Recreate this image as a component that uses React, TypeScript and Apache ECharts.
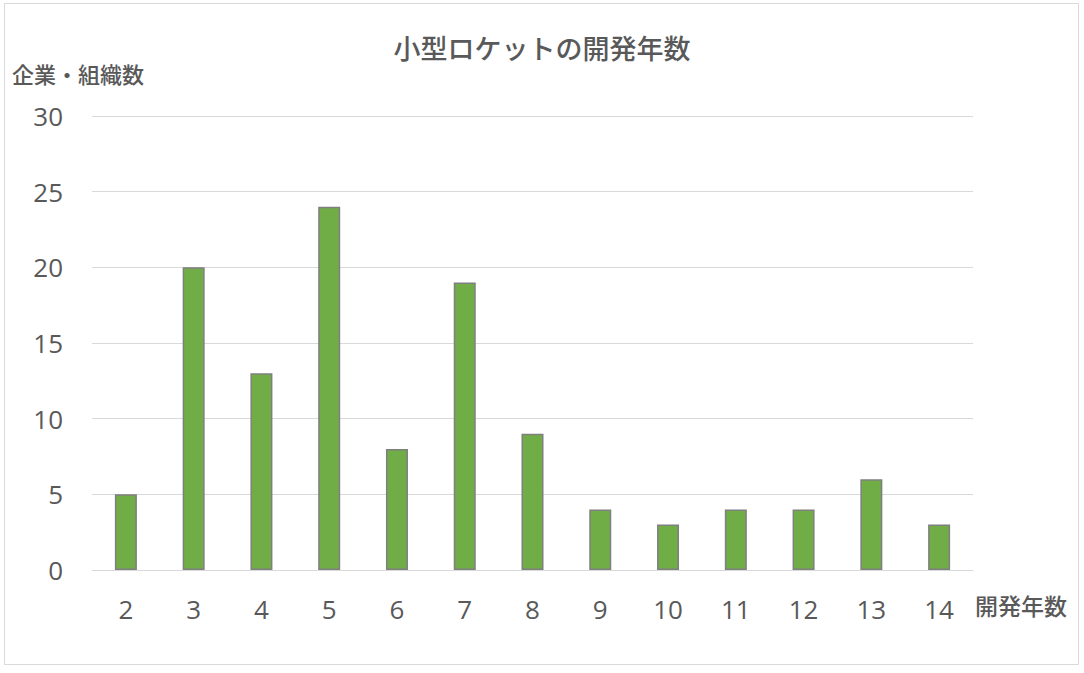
import React, { useEffect, useRef } from "react";
import * as echarts from "echarts";

const categories = ["2", "3", "4", "5", "6", "7", "8", "9", "10", "11", "12", "13", "14"];
const values = [5, 20, 13, 24, 8, 19, 9, 4, 3, 4, 4, 6, 3];
const title = "小型ロケットの開発年数";
const yName = "企業・組織数";
const xName = "開発年数";

const FONT = "'Noto Sans', 'Noto Sans CJK JP', sans-serif";
const NUMFONT = "'Open Sans', 'Noto Sans', sans-serif";
const TXT = "#595959";

export default function App() {
  const ref = useRef<HTMLDivElement>(null);
  useEffect(() => {
    document.body.style.margin = "0";
    const chart = echarts.init(ref.current!, null, { renderer: "svg" });
    chart.setOption({
      animation: false,
      backgroundColor: "#ffffff",
      textStyle: { fontFamily: FONT },
      title: {
        text: title,
        left: "center",
        top: 30,
        textStyle: { fontFamily: FONT, fontSize: 27, fontWeight: 500, color: TXT },
      },
      graphic: [
        {
          type: "rect",
          shape: { x: 4.5, y: 3.5, width: 1074, height: 661 },
          style: { fill: "none", stroke: "#d9d9d9", lineWidth: 1 },
          silent: true,
        },
        {
          type: "text",
          left: 12,
          top: 63,
          style: { text: yName, font: `500 22px ${FONT}`, fill: TXT },
        },
        {
          type: "text",
          left: 975,
          top: 594,
          style: { text: xName, font: `500 23px ${FONT}`, fill: TXT },
        },
      ],
      grid: { left: 92, right: 111, top: 116, bottom: 103, containLabel: false },
      xAxis: {
        type: "category",
        data: categories,
        axisLine: { show: true, lineStyle: { color: "#d9d9d9", width: 1 } },
        axisTick: { show: false },
        axisLabel: { color: TXT, fontSize: 26, fontFamily: NUMFONT, margin: 26 },
      },
      yAxis: {
        type: "value",
        min: 0,
        max: 30,
        interval: 5,
        axisLine: { show: false },
        axisTick: { show: false },
        splitLine: { lineStyle: { color: "#d9d9d9", width: 1 } },
        axisLabel: { color: TXT, fontSize: 26, fontFamily: NUMFONT, margin: 29 },
      },
      series: [
        {
          type: "bar",
          data: values,
          barWidth: 22,
          itemStyle: { color: "#70ad47", borderColor: "#7f7f7f", borderWidth: 1.5 },
        },
      ],
    });
    return () => chart.dispose();
  }, []);
  return <div ref={ref} style={{ position: "absolute", left: 0, top: 0, width: 1084, height: 673 }} />;
}
